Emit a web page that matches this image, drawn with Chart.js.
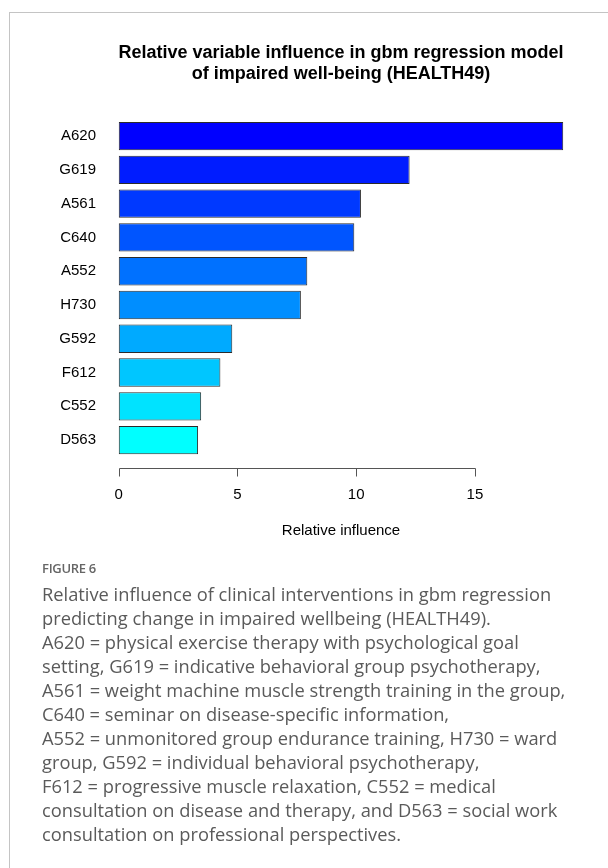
<!DOCTYPE html>
<html>
<head>
<meta charset="utf-8">
<script src="https://cdn.jsdelivr.net/npm/chart.js@4/dist/chart.umd.min.js"></script>
<style>
  html, body {
    margin: 0;
    padding: 0;
    width: 608px;
    height: 868px;
    overflow: hidden;
    background: #fff;
  }
  .frame {
    position: absolute;
    left: 9px;
    top: 12px;
    width: 700px;
    height: 900px;
    border-top: 1px solid #c4c4c4;
    border-left: 1px solid #c4c4c4;
  }
  #chartBox {
    position: absolute;
    left: 0;
    top: 0;
  }
  .caption {
    position: absolute;
    left: 42px;
    top: 559px;
    font-family: "Open Sans", sans-serif;
    color: #5a5a5a;
  }
  .caption .fig {
    font-size: 13px;
    line-height: 18px;
    font-weight: 600;
    letter-spacing: -0.3px;
    color: #666;
  }
  .caption p {
    margin: 5px 0 0 0;
    font-size: 18.3px;
    line-height: 24px;
    white-space: nowrap;
  }
</style>
</head>
<body>
<div class="frame"></div>
<div id="chartBox">
  <canvas id="myChart" width="608" height="560"></canvas>
</div>
<div class="caption">
  <div class="fig">FIGURE 6</div>
  <p>Relative influence of clinical interventions in gbm regression<br>
  predicting change in impaired wellbeing (HEALTH49).<br>
  A620 = physical exercise therapy with psychological goal<br>
  setting, G619 = indicative behavioral group psychotherapy,<br>
  A561 = weight machine muscle strength training in the group,<br>
  C640 = seminar on disease-specific information,<br>
  A552 = unmonitored group endurance training, H730 = ward<br>
  group, G592 = individual behavioral psychotherapy,<br>
  F612 = progressive muscle relaxation, C552 = medical<br>
  consultation on disease and therapy, and D563 = social work<br>
  consultation on professional perspectives.</p>
</div>

<script>
// variables, top bar first
const variables = ['A620', 'G619', 'A561', 'C640', 'A552', 'H730', 'G592', 'F612', 'C552', 'D563'];
const influence = [18.72, 12.25, 10.2, 9.92, 7.94, 7.67, 4.78, 4.28, 3.47, 3.34];
const tickStep = 5;

// rainbow from blue to cyan, like gbm's summary plot
const barColors = ['#0000FF', '#001CFF', '#0039FF', '#0055FF', '#0071FF',
                   '#008EFF', '#00AAFF', '#00C6FF', '#00E3FF', '#00FFFF'];

const maxVal = Math.max(...influence);

// R style x axis: line only from first to last tick, set off below the bars
const rAxis = {
    id: 'rAxis',
    afterDraw(chart) {
        const { ctx, chartArea, scales: { x } } = chart;
        const y = Math.round(chartArea.bottom + 11) + 0.5;
        const px = x.ticks.map(t => Math.round(x.getPixelForValue(t.value)) + 0.5);
        ctx.save();
        ctx.strokeStyle = '#555';
        ctx.lineWidth = 1;
        ctx.beginPath();
        ctx.moveTo(px[0], y);
        ctx.lineTo(px[px.length - 1], y);
        for (let p of px) {
            ctx.moveTo(p, y);
            ctx.lineTo(p, y + 8);
        }
        ctx.stroke();
        ctx.restore();
    }
};

const ctx = document.getElementById('myChart').getContext('2d');
const myChart = new Chart(ctx, { // eslint-disable-line
    type: 'bar',
    data: {
        labels: variables,
        datasets: [
            {
                data: influence,
                backgroundColor: barColors,
                borderColor: '#2b2b2b',
                borderWidth: 1,
                borderSkipped: false,
                categoryPercentage: 1,
                barPercentage: 0.84
            }
        ]
    },
    options: {
        indexAxis: 'y',
        responsive: false,
        animation: false,
        devicePixelRatio: 1,
        layout: {
            padding: { left: 0, right: 27, top: 0, bottom: 0 }
        },
        plugins: {
            legend: { display: false },
            tooltip: { enabled: false },
            title: {
                display: true,
                fullSize: false,
                text: ['Relative variable influence in gbm regression model',
                       'of impaired well-being (HEALTH49)'],
                color: '#000',
                font: { family: 'Liberation Sans', size: 18, weight: 'bold', lineHeight: 1.2 },
                padding: { top: 42, bottom: 34 }
            }
        },
        scales: {
            x: {
                min: -0.04 * maxVal,
                max: 1.04 * maxVal,
                grid: { display: false, drawTicks: false },
                border: { display: false },
                ticks: {
                    stepSize: tickStep,
                    includeBounds: false,
                    padding: 29,
                    color: '#000',
                    font: { family: 'Liberation Sans', size: 15 }
                },
                afterBuildTicks: (scale) => {
                    scale.ticks = scale.ticks.filter(t => t.value >= 0 && t.value <= maxVal);
                },
                afterFit: (scale) => {
                    scale.height = 103;
                },
                title: {
                    display: true,
                    text: 'Relative influence',
                    color: '#000',
                    font: { family: 'Liberation Sans', size: 15 },
                    padding: { top: 0, bottom: 20 }
                }
            },
            y: {
                grid: { display: false, drawTicks: false },
                border: { display: false },
                ticks: {
                    padding: 5,
                    color: '#000',
                    font: { family: 'Liberation Sans', size: 15 }
                },
                afterFit: (scale) => {
                    scale.width = 101;
                }
            }
        }
    },
    plugins: [rAxis]
});
</script>
</body>
</html>
